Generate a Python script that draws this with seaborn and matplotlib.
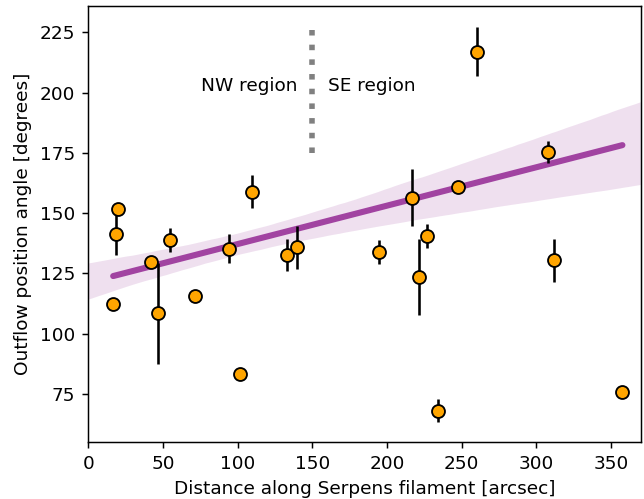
import numpy as np
import matplotlib
matplotlib.use("Agg")
import matplotlib.pyplot as plt
import seaborn as sns

# outflow data
dist = [16.7, 18.3, 20.1, 41.8, 46.5, 54.7, 71.5, 94.0, 101.6, 109.4, 132.9,
        140.0, 195.0, 216.8, 221.5, 226.7, 234.0, 247.4, 260.1, 307.7, 311.9, 357.7]
angle = [112.2, 141.3, 151.7, 129.7, 108.4, 139.0, 115.6, 135.2, 83.3, 159.0, 132.7,
         135.8, 134.0, 156.5, 123.4, 140.5, 68.0, 160.9, 217.1, 175.4, 130.5, 76.0]
angle_err = [0, 8.7, 0, 0, 21.0, 5.0, 0, 6.0, 0, 7.0, 6.5,
             9.0, 5.0, 11.8, 15.7, 5.0, 4.8, 0, 10.0, 4.7, 9.0, 0]
# outliers left out of the linear fit
excluded = [101.6, 234.0, 311.9, 357.7]

dist = np.array(dist)
angle = np.array(angle)
angle_err = np.array(angle_err)
fit = ~np.isin(dist, excluded)

plt.rcParams['font.family'] = ['DejaVu Sans']

fig, ax = plt.subplots(figsize=(644 / 133, 499 / 133), dpi=133)
fig.subplots_adjust(left=0.137, right=0.995, top=0.988, bottom=0.114)
ax.set_xlim(0, 370)
ax.set_ylim(55, 236)

purple = "purple"
# confidence band over the full x range
sns.regplot(x=dist[fit], y=angle[fit], ax=ax, scatter=False, truncate=False,
            ci=68, n_boot=2000, color=purple, seed=1, line_kws=dict(alpha=0))
for coll in ax.collections:
    coll.set_alpha(0.12)
    coll.set_linewidth(0)

# fitted line over the range of the data
coef = np.polyfit(dist[fit], angle[fit], 1)
sns.lineplot(x=dist, y=np.polyval(coef, dist), ax=ax, color=purple, alpha=0.7,
             lw=3.3, solid_capstyle="round", zorder=3)

ax.errorbar(dist, angle, yerr=angle_err, fmt="o", color="black", ms=7,
            mfc="orange", mec="black", mew=1.0, elinewidth=1.4, capsize=0,
            zorder=4)

# boundary between the two regions
ax.plot([150, 150], [175, 226], ls=":", lw=3, color="grey")
ax.text(140, 202.6, "NW region", ha="right", va="center", fontsize=10)
ax.text(160.5, 202.6, "SE region", ha="left", va="center", fontsize=10)

ax.set_xticks([0, 50, 100, 150, 200, 250, 300, 350])
ax.set_yticks([75, 100, 125, 150, 175, 200, 225])
ax.set_xlabel("Distance along Serpens filament [arcsec]", fontsize=10)
ax.set_ylabel("Outflow position angle [degrees]", fontsize=10)
ax.tick_params(labelsize=10)

fig.savefig("out.png", dpi=133)
